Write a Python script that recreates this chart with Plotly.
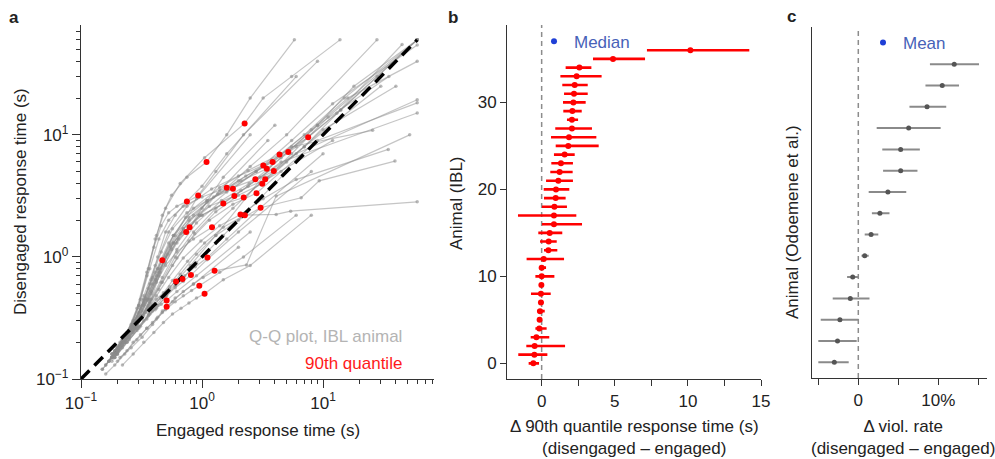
import plotly.graph_objects as go

W, H = 995, 459
FONT = "Liberation Sans, Arial, Helvetica, sans-serif"
AX = "#333333"

# ---------------- Panel a: Q-Q curves (engaged vs disengaged response-time quantiles)
quantile_levels = [0.05, 0.1, 0.2, 0.3, 0.4, 0.5, 0.6, 0.7, 0.8, 0.9, 0.95, 0.98, 1.0]
engaged_q = [
    [0.17, 0.2, 0.25, 0.3, 0.36, 0.42, 0.5, 0.66, 1.05, 2.25, 3.2, 5.5, 13.8],
    [0.16, 0.19, 0.24, 0.29, 0.35, 0.41, 0.47, 0.56, 0.75, 1.09, 1.6, 2.5, 5.8],
    [0.18, 0.21, 0.26, 0.31, 0.37, 0.43, 0.5, 0.6, 0.74, 0.93, 1.3, 2.2, 9],
    [0.17, 0.2, 0.25, 0.3, 0.35, 0.4, 0.46, 0.53, 0.62, 0.75, 1.0, 1.6, 6],
    [0.18, 0.22, 0.27, 0.32, 0.38, 0.44, 0.5, 0.58, 0.67, 0.79, 1.0, 1.5, 4],
    [0.19, 0.22, 0.27, 0.32, 0.37, 0.42, 0.48, 0.56, 0.64, 0.74, 0.95, 1.4, 3.5],
    [0.15, 0.18, 0.22, 0.26, 0.3, 0.33, 0.36, 0.39, 0.43, 0.47, 0.6, 0.9, 2.5],
    [0.18, 0.21, 0.26, 0.31, 0.37, 0.44, 0.53, 0.7, 1.0, 1.6, 2.5, 5, 27.9],
    [0.19, 0.22, 0.27, 0.32, 0.38, 0.46, 0.57, 0.75, 1.1, 1.8, 2.8, 5.5, 25.7],
    [0.2, 0.23, 0.28, 0.33, 0.39, 0.47, 0.58, 0.78, 1.15, 1.85, 3, 6, 60],
    [0.19, 0.23, 0.28, 0.32, 0.38, 0.45, 0.55, 0.7, 1.0, 1.5, 2.4, 4.5, 60],
    [0.18, 0.22, 0.26, 0.31, 0.36, 0.42, 0.5, 0.62, 0.85, 1.21, 1.8, 3, 12],
    [0.2, 0.24, 0.3, 0.38, 0.5, 0.7, 1.1, 2.0, 3.8, 7.54, 14, 28, 60],
    [0.19, 0.23, 0.28, 0.35, 0.45, 0.62, 0.95, 1.6, 2.8, 5.16, 9, 18, 60],
    [0.19, 0.23, 0.28, 0.34, 0.43, 0.58, 0.85, 1.4, 2.4, 4.37, 8, 16, 60],
    [0.18, 0.22, 0.27, 0.33, 0.41, 0.53, 0.75, 1.2, 2.0, 3.21, 5.5, 12, 60],
    [0.19, 0.23, 0.28, 0.35, 0.44, 0.58, 0.85, 1.35, 2.3, 3.83, 7, 15, 60],
    [0.18, 0.22, 0.27, 0.33, 0.42, 0.55, 0.78, 1.25, 2.1, 3.43, 6, 13, 45],
    [0.2, 0.24, 0.3, 0.37, 0.47, 0.62, 0.9, 1.45, 2.45, 3.92, 7, 14, 60],
    [0.18, 0.22, 0.27, 0.33, 0.41, 0.53, 0.73, 1.1, 1.8, 2.76, 4.5, 9, 35],
    [0.19, 0.23, 0.29, 0.36, 0.46, 0.6, 0.85, 1.3, 2.1, 3.33, 5.5, 11, 60],
    [0.2, 0.24, 0.3, 0.37, 0.47, 0.62, 0.87, 1.3, 2.0, 3.15, 5, 10, 40],
    [0.19, 0.23, 0.29, 0.35, 0.44, 0.57, 0.78, 1.15, 1.8, 2.82, 4.5, 9, 60],
    [0.18, 0.22, 0.27, 0.33, 0.41, 0.52, 0.7, 1.0, 1.5, 2.21, 3.5, 7, 30],
    [0.2, 0.25, 0.31, 0.39, 0.5, 0.66, 0.9, 1.3, 2.0, 3.05, 6.6, 9.3, 39.3],
    [0.19, 0.23, 0.28, 0.34, 0.42, 0.53, 0.7, 0.98, 1.4, 2.08, 3.2, 6.0, 34.6],
    [0.2, 0.24, 0.3, 0.36, 0.45, 0.57, 0.76, 1.05, 1.5, 2.26, 4.1, 5.4, 60],
    [0.2, 0.24, 0.29, 0.35, 0.42, 0.5, 0.6, 0.72, 0.88, 1.11, 1.6, 3, 10],
    [0.21, 0.26, 0.32, 0.39, 0.47, 0.57, 0.7, 0.85, 1.02, 1.27, 2.33, 4.1, 52],
    [0.18, 0.21, 0.25, 0.3, 0.36, 0.43, 0.51, 0.6, 0.7, 0.81, 1.1, 2, 8],
    [0.16, 0.19, 0.23, 0.27, 0.31, 0.36, 0.42, 0.48, 0.54, 0.61, 0.8, 1.3, 4],
    [0.17, 0.2, 0.24, 0.28, 0.33, 0.39, 0.46, 0.54, 0.61, 0.69, 0.9, 1.5, 5],
    [0.2, 0.24, 0.29, 0.35, 0.42, 0.5, 0.6, 0.7, 0.82, 0.95, 1.4, 2.2, 6],
    [0.22, 0.27, 0.33, 0.4, 0.48, 0.57, 0.67, 0.78, 0.9, 1.05, 1.5, 2.5, 8],
    [0.15, 0.18, 0.21, 0.25, 0.29, 0.33, 0.37, 0.41, 0.46, 0.51, 0.62, 0.9, 2.5],
    [0.16, 0.19, 0.23, 0.27, 0.31, 0.35, 0.39, 0.43, 0.47, 0.51, 0.6, 0.85, 2],
]
disengaged_q = [
    [0.14, 0.18, 0.25, 0.4, 0.8, 1.5, 2.5, 4.0, 6.5, 12.4, 20, 30, 60],
    [0.13, 0.17, 0.24, 0.38, 0.75, 1.4, 2.2, 3.2, 4.5, 5.99, 10, 20, 60],
    [0.15, 0.19, 0.26, 0.38, 0.6, 1.0, 1.6, 2.2, 2.8, 3.19, 5, 10, 40],
    [0.14, 0.18, 0.25, 0.4, 0.7, 1.2, 1.8, 2.3, 2.6, 2.85, 3.8, 7, 30],
    [0.14, 0.18, 0.24, 0.32, 0.45, 0.7, 1.0, 1.3, 1.55, 1.75, 2.5, 4.5, 12],
    [0.15, 0.19, 0.25, 0.33, 0.45, 0.65, 0.9, 1.15, 1.4, 1.6, 2.2, 3.5, 9],
    [0.12, 0.15, 0.2, 0.27, 0.35, 0.45, 0.55, 0.68, 0.8, 0.94, 1.5, 3, 10],
    [0.15, 0.2, 0.28, 0.45, 0.8, 1.4, 2.0, 2.6, 3.1, 3.69, 5.5, 10, 60],
    [0.15, 0.2, 0.27, 0.4, 0.65, 1.1, 1.7, 2.3, 2.9, 3.62, 5, 8, 10.9],
    [0.16, 0.21, 0.28, 0.4, 0.6, 0.95, 1.5, 2.0, 2.6, 3.15, 4.5, 7, 19.4],
    [0.15, 0.2, 0.26, 0.36, 0.52, 0.8, 1.2, 1.7, 2.2, 2.74, 3.8, 6, 15.1],
    [0.15, 0.19, 0.25, 0.33, 0.45, 0.62, 0.85, 1.1, 1.4, 1.75, 2.5, 4, 9],
    [0.18, 0.23, 0.32, 0.5, 0.9, 1.7, 2.8, 4.2, 6.2, 9.56, 16, 30, 60],
    [0.17, 0.22, 0.3, 0.45, 0.75, 1.3, 2.2, 3.4, 5.0, 7.23, 12, 25, 60],
    [0.16, 0.21, 0.3, 0.46, 0.8, 1.5, 2.5, 3.7, 5.1, 6.89, 11, 20, 40],
    [0.16, 0.21, 0.3, 0.48, 0.85, 1.6, 2.6, 3.6, 4.6, 5.62, 9, 18, 54.5],
    [0.16, 0.21, 0.29, 0.44, 0.75, 1.3, 2.2, 3.3, 4.6, 5.99, 10, 20, 60],
    [0.15, 0.2, 0.28, 0.42, 0.7, 1.25, 2.1, 3.1, 4.2, 5.28, 8, 15, 55],
    [0.17, 0.22, 0.3, 0.43, 0.68, 1.15, 1.9, 2.9, 4.0, 5.05, 8, 16, 60],
    [0.16, 0.21, 0.29, 0.44, 0.75, 1.3, 2.1, 2.9, 3.7, 4.32, 6.5, 12, 30],
    [0.16, 0.21, 0.28, 0.4, 0.62, 1.0, 1.6, 2.5, 3.5, 4.32, 7, 14, 60],
    [0.17, 0.22, 0.3, 0.42, 0.62, 0.98, 1.55, 2.35, 3.2, 3.98, 6, 11, 25],
    [0.16, 0.2, 0.27, 0.37, 0.54, 0.85, 1.35, 2.0, 2.7, 3.33, 5, 9, 18.3],
    [0.16, 0.21, 0.29, 0.42, 0.65, 1.05, 1.6, 2.2, 2.7, 3.07, 4.5, 8, 25],
    [0.17, 0.21, 0.27, 0.36, 0.5, 0.72, 1.05, 1.5, 2.0, 2.53, 3.05, 4.2, 6.1],
    [0.16, 0.2, 0.26, 0.35, 0.48, 0.68, 0.98, 1.35, 1.8, 2.23, 3.0, 4.3, 7.6],
    [0.16, 0.2, 0.26, 0.34, 0.46, 0.64, 0.92, 1.3, 1.75, 2.2, 2.23, 2.37, 2.83],
    [0.16, 0.2, 0.25, 0.31, 0.38, 0.47, 0.58, 0.7, 0.83, 0.99, 1.4, 2.5, 7],
    [0.15, 0.18, 0.22, 0.28, 0.35, 0.43, 0.52, 0.6, 0.68, 0.77, 0.86, 3.15, 10],
    [0.15, 0.18, 0.22, 0.27, 0.33, 0.4, 0.48, 0.56, 0.63, 0.71, 0.95, 1.6, 5],
    [0.13, 0.16, 0.21, 0.26, 0.32, 0.38, 0.45, 0.51, 0.57, 0.63, 0.85, 1.5, 6],
    [0.14, 0.17, 0.22, 0.27, 0.33, 0.4, 0.47, 0.54, 0.6, 0.66, 0.9, 1.5, 5],
    [0.14, 0.17, 0.21, 0.26, 0.31, 0.37, 0.43, 0.48, 0.53, 0.58, 0.75, 1.0, 2.2],
    [0.13, 0.16, 0.2, 0.24, 0.29, 0.34, 0.38, 0.42, 0.46, 0.5, 0.65, 0.85, 2.2],
    [0.12, 0.15, 0.18, 0.22, 0.26, 0.3, 0.34, 0.37, 0.41, 0.44, 0.52, 0.7, 1.6],
    [0.11, 0.13, 0.16, 0.2, 0.23, 0.26, 0.29, 0.32, 0.36, 0.39, 0.46, 0.6, 1.2],
]
identity_range = [0.1, 60]

# ---------------- Panel b: delta 90th quantile (IBL animals, sorted)
ibl_animal = list(range(37))
ibl_median = [-0.57, -0.50, -0.48, -0.36, -0.16, -0.14, -0.11, -0.05, -0.05, -0.02, 0.0, 0.0,
              0.14, 0.46, 0.48, 0.55, 0.84, 0.84, 0.87, 0.96, 0.98, 1.14, 1.23, 1.32, 1.57,
              1.82, 1.87, 2.07, 2.07, 2.10, 2.17, 2.21, 2.26, 2.39, 2.58, 4.88, 10.17]
ibl_lo = [-0.89, -1.60, -1.05, -0.75, -0.43, -0.25, -0.32, -0.18, -0.73, -0.16, -0.43, -0.16,
          -1.03, 0.16, -0.11, -0.23, 0.02, -1.62, 0.02, 0.16, 0.14, 0.30, 0.59, 0.66, 0.84,
          0.96, 0.64, 0.93, 1.73, 1.48, 1.46, 1.53, 1.41, 1.28, 1.64, 3.51, 7.2]
ibl_hi = [-0.18, 0.39, 1.60, 0.52, 0.34, 0.0, 0.21, 0.11, 0.62, 0.14, 0.87, 0.30,
          1.53, 1.07, 1.03, 1.41, 2.76, 2.37, 1.73, 1.64, 1.89, 2.14, 2.12, 2.14, 2.26,
          3.90, 3.74, 3.44, 2.49, 2.74, 3.01, 3.15, 3.15, 4.10, 3.40, 7.07, 14.2]

# ---------------- Panel c: delta violation rate (%) (Odoemene et al. animals, sorted)
odo_animal = list(range(15))
odo_mean = [-3.0, -2.6, -2.3, -1.0, -0.7, 0.8, 1.6, 2.7, 3.7, 5.3, 5.3, 6.3, 8.6, 10.5, 12.0]
odo_lo = [-5.0, -5.0, -4.7, -3.2, -1.4, 0.4, 0.8, 1.7, 1.3, 3.1, 3.0, 2.3, 6.4, 8.4, 8.96]
odo_hi = [-1.2, -0.2, 0.04, 1.4, 0.04, 1.3, 2.5, 3.9, 6.0, 7.4, 7.7, 10.3, 11.0, 12.6, 15.1]

fig = go.Figure()

# panel a traces
for e, d in zip(engaged_q, disengaged_q):
    fig.add_trace(go.Scatter(
        x=e, y=d, mode="lines+markers", xaxis="x", yaxis="y",
        line=dict(color="rgba(140,140,140,0.5)", width=1.2),
        marker=dict(color="rgba(140,140,140,0.6)", size=3.5),
        showlegend=False, hoverinfo="skip"))
fig.add_trace(go.Scatter(
    x=identity_range, y=identity_range, mode="lines", xaxis="x", yaxis="y",
    line=dict(color="black", width=3.5, dash="12px,7px"), showlegend=False))
i90 = quantile_levels.index(0.9)
fig.add_trace(go.Scatter(
    x=[e[i90] for e in engaged_q], y=[d[i90] for d in disengaged_q],
    mode="markers", xaxis="x", yaxis="y",
    marker=dict(color="#ff0000", size=6), showlegend=False))

# panel b
fig.add_trace(go.Scatter(
    x=ibl_median, y=ibl_animal, mode="markers", xaxis="x2", yaxis="y2",
    marker=dict(color="#ff0000", size=6),
    error_x=dict(type="data", symmetric=False,
                 array=[h - m for h, m in zip(ibl_hi, ibl_median)],
                 arrayminus=[m - l for m, l in zip(ibl_median, ibl_lo)],
                 color="#ff0000", thickness=2.6, width=0),
    showlegend=False))
fig.add_trace(go.Scatter(
    x=[None], y=[None], mode="markers", xaxis="x2", yaxis="y2", name="Median",
    marker=dict(color="#1f3fd6", size=6), legend="legend2", showlegend=True))

# panel c
fig.add_trace(go.Scatter(
    x=odo_mean, y=odo_animal, mode="markers", xaxis="x3", yaxis="y3",
    marker=dict(color="#555555", size=5),
    error_x=dict(type="data", symmetric=False,
                 array=[h - m for h, m in zip(odo_hi, odo_mean)],
                 arrayminus=[m - l for m, l in zip(odo_mean, odo_lo)],
                 color="#8a8a8a", thickness=2, width=0),
    showlegend=False))
fig.add_trace(go.Scatter(
    x=[None], y=[None], mode="markers", xaxis="x3", yaxis="y3", name="Mean",
    marker=dict(color="#1f3fd6", size=6), legend="legend3", showlegend=True))


def px(xp):
    return xp / W


def py(yp):
    return 1 - yp / H


tickfont = dict(family=FONT, size=17, color="#222")
common = dict(showline=True, linecolor=AX, linewidth=1.3, ticks="outside",
              tickcolor=AX, tickwidth=1.2, showgrid=False, zeroline=False,
              tickfont=tickfont, automargin=False)

minor_x_a = [m * 10 ** k for k in (-1, 0, 1) for m in range(2, 10) if m * 10 ** k < 85]
minor_y_a = [m * 10 ** k for k in (-1, 0, 1) for m in range(2, 10) if m * 10 ** k < 80]

fig.update_layout(
    width=W, height=H, margin=dict(l=0, r=0, t=0, b=0),
    paper_bgcolor="white", plot_bgcolor="white",
    font=dict(family=FONT, size=17, color="#222"),
    xaxis=dict(type="log", range=[-1, 1.917], domain=[px(81), px(434)], anchor="y",
               tickvals=[0.1, 1, 10],
               ticktext=["10<sup>−1</sup>", "10<sup>0</sup>", "10<sup>1</sup>"],
               ticklen=8,
               minor=dict(tickvals=minor_x_a, ticklen=4, ticks="outside",
                          tickcolor=AX, tickwidth=1), **common),
    yaxis=dict(type="log", range=[-1, 1.90], domain=[py(379), py(25)], anchor="x",
               tickvals=[0.1, 1, 10],
               ticktext=["10<sup>−1</sup>", "10<sup>0</sup>", "10<sup>1</sup>"],
               ticklen=8,
               minor=dict(tickvals=minor_y_a, ticklen=4, ticks="outside",
                          tickcolor=AX, tickwidth=1), **common),
    xaxis2=dict(range=[-2.35, 15], domain=[px(507.3), px(761)], anchor="y2",
                tickvals=[0, 5, 10, 15], ticklen=6,
                minor=dict(tickvals=[2.5, 7.5, 12.5], ticklen=6, ticks="outside",
                           tickcolor=AX, tickwidth=1.2), **common),
    yaxis2=dict(range=[-1.8, 38.9], domain=[py(379), py(25)], anchor="x2",
                tickvals=[0, 10, 20, 30], ticklen=6, **common),
    xaxis3=dict(range=[-5.83, 16.1], domain=[px(811.7), px(987)], anchor="y3",
                tickvals=[0, 10], ticktext=["0", "10%"], ticklen=6,
                minor=dict(tickvals=[-5, 5, 15], ticklen=6, ticks="outside",
                           tickcolor=AX, tickwidth=1.2), **common),
    yaxis3=dict(range=[-0.74, 15.75], domain=[py(378), py(27)], anchor="x3",
                showline=True, linecolor=AX, linewidth=1.3, ticks="",
                showticklabels=False, showgrid=False, zeroline=False, automargin=False),
    legend2=dict(x=px(534), y=py(41.7), xanchor="left", yanchor="middle",
                 bgcolor="rgba(0,0,0,0)", font=dict(family=FONT, size=17, color="#4762b8"),
                 itemwidth=30),
    legend3=dict(x=px(863), y=py(43), xanchor="left", yanchor="middle",
                 bgcolor="rgba(0,0,0,0)", font=dict(family=FONT, size=17, color="#4762b8"),
                 itemwidth=30),
)

# dashed zero lines in panels b and c
for xr, yr in (("x2", "y2 domain"), ("x3", "y3 domain")):
    fig.add_shape(type="line", xref=xr, yref=yr, x0=0, x1=0, y0=0, y1=1,
                  line=dict(color="#8c8c8c", width=1.5, dash="5px,4px"), layer="below")


def ann(text, x, y, size=17, color="#222", angle=0, xanchor="center", yanchor="middle", bold=False):
    if bold:
        text = "<b>" + text + "</b>"
    fig.add_annotation(text=text, x=px(x), y=py(y), xref="paper", yref="paper",
                       showarrow=False, textangle=angle, xanchor=xanchor, yanchor=yanchor,
                       font=dict(family=FONT, size=size, color=color))


ann("a", 14, 18, bold=True)
ann("b", 453, 18, bold=True)
ann("c", 791, 17, bold=True)
ann("Engaged response time (s)", 258, 430)
ann("Disengaged response time (s)", 21, 202, angle=-90)
ann("Q-Q plot, IBL animal", 404, 336, color="#b4b4b4", xanchor="right")
ann("90th quantile", 404, 363, color="#ff1a1a", xanchor="right")
ann("Δ 90th quantile response time (s)<br>(disengaged – engaged)", 634, 437)
ann("Animal (IBL)", 456, 203, angle=-90)
ann("Δ viol. rate<br>(disengaged – engaged)", 903, 437)
ann("Animal (Odoemene et al.)", 792, 222, angle=-90)

fig.write_html("out.html", config={"displayModeBar": False},
               post_script="document.body.style.margin='0px';")
